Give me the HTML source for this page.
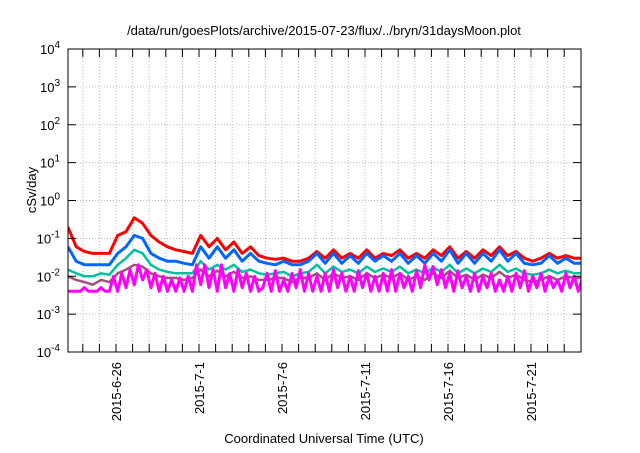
<!DOCTYPE html>
<html><head><meta charset="utf-8"><style>
body{margin:0;background:#fff;}
svg text{font-family:"Liberation Sans",sans-serif;fill:#000;}
</style></head><body>
<svg id="chart" width="640" height="448" viewBox="0 0 640 448" xmlns="http://www.w3.org/2000/svg">
<text x="324" y="35" font-size="13" text-anchor="middle">/data/run/goesPlots/archive/2015-07-23/flux/../bryn/31daysMoon.plot</text>
<text transform="translate(36,190) rotate(-90)" font-size="13" text-anchor="middle">cSv/day</text>
<text x="324" y="443" font-size="13" text-anchor="middle">Coordinated Universal Time (UTC)</text>
<g id="grid"></g>
<g id="series"></g>
<g id="axes"></g>
</svg>
<script>
const yDecades=[-4,-3,-2,-1,0,1,2,3,4];
const xTickDays=[3,8,13,18,23,28];
const xTickLabels=["2015-6-26","2015-7-1","2015-7-6","2015-7-11","2015-7-16","2015-7-21"];
const redVals=[0.2,0.06,0.045,0.04,0.04,0.04,0.12,0.15,0.35,0.25,0.12,0.08,0.06,0.05,0.045,0.04,0.12,0.06,0.1,0.05,0.08,0.04,0.06,0.035,0.03,0.028,0.03,0.025,0.025,0.03,0.045,0.03,0.05,0.03,0.04,0.03,0.05,0.03,0.04,0.035,0.05,0.03,0.04,0.03,0.05,0.035,0.06,0.03,0.045,0.03,0.05,0.035,0.06,0.035,0.045,0.03,0.025,0.03,0.04,0.03,0.035,0.03,0.03];
const blueVals=[0.06,0.025,0.02,0.02,0.02,0.02,0.04,0.06,0.12,0.1,0.04,0.03,0.025,0.025,0.022,0.02,0.06,0.03,0.06,0.03,0.05,0.025,0.04,0.025,0.022,0.02,0.025,0.02,0.02,0.025,0.04,0.022,0.04,0.022,0.035,0.022,0.04,0.025,0.035,0.025,0.04,0.022,0.035,0.022,0.04,0.025,0.05,0.022,0.04,0.022,0.04,0.025,0.05,0.025,0.04,0.022,0.02,0.022,0.035,0.022,0.03,0.022,0.022];
const tealVals=[0.015,0.012,0.01,0.01,0.012,0.011,0.02,0.03,0.05,0.04,0.02,0.015,0.013,0.012,0.012,0.012,0.025,0.015,0.02,0.015,0.02,0.013,0.015,0.012,0.011,0.012,0.013,0.01,0.012,0.013,0.02,0.012,0.018,0.013,0.015,0.012,0.018,0.013,0.016,0.013,0.018,0.012,0.015,0.012,0.017,0.013,0.02,0.012,0.016,0.012,0.016,0.013,0.02,0.013,0.016,0.012,0.011,0.012,0.015,0.012,0.014,0.012,0.012];
const purpleVals=[0.01,0.008,0.007,0.006,0.008,0.007,0.012,0.015,0.02,0.018,0.012,0.01,0.009,0.009,0.008,0.009,0.015,0.01,0.014,0.01,0.013,0.009,0.01,0.008,0.008,0.009,0.009,0.007,0.009,0.009,0.012,0.008,0.012,0.009,0.01,0.008,0.012,0.009,0.011,0.009,0.012,0.008,0.01,0.008,0.012,0.009,0.014,0.009,0.011,0.008,0.011,0.009,0.013,0.009,0.011,0.008,0.007,0.008,0.01,0.008,0.01,0.009,0.009];
const magentaVals=[0.004,0.004,0.004,0.004,0.005,0.004,0.004,0.004,0.005,0.004,0.004,
0.01,0.004,0.012,0.005,0.015,0.006,0.02,0.008,0.015,
0.005,0.012,0.004,0.01,0.004,0.008,0.004,0.009,0.004,0.01,0.004,0.02,
0.006,0.02,0.005,0.015,0.004,0.02,0.005,0.012,0.004,0.015,0.005,0.012,0.004,0.01,0.004,
0.005,0.012,0.004,0.014,0.004,0.008,0.004,0.012,0.005,0.015,0.004,0.012,0.004,0.01,0.004,
0.012,0.004,0.015,0.005,0.012,0.004,0.01,0.004,0.014,0.005,0.012,0.004,0.01,0.004,0.012,
0.004,0.015,0.004,0.012,0.005,0.01,0.004,0.014,0.005,0.02,0.008,0.018,0.006,0.015,0.005,
0.012,0.004,0.014,0.005,0.01,0.004,0.012,0.004,0.01,0.005,0.012,0.004,0.008,0.004,0.01,
0.004,0.012,0.005,0.014,0.004,0.01,0.005,0.012,0.004,0.01,0.005,0.008,
0.004,0.012,0.005,0.01,0.004,0.009];
const L=68,R=581,T=49,B=352;
const xS=d=>66.2+16.6*d;
const yS=v=>T+(4-Math.log10(v))*(B-T)/8;
const NS="http://www.w3.org/2000/svg";
function mk(tag,attrs,parent){const e=document.createElementNS(NS,tag);for(const k in attrs)e.setAttribute(k,attrs[k]);parent.appendChild(e);return e;}
const grid=document.getElementById('grid'),axes=document.getElementById('axes'),ser=document.getElementById('series');
for(let d=0;d<=31;d++){const x=xS(d);if(x<=L+1||x>=R-1)continue;
 const g=mk('line',{x1:x,x2:x,y1:T,y2:B,stroke:'#bbb','stroke-dasharray':'1,2'},grid);
 
 const t1=mk('line',{x1:x,x2:x,y1:B,y2:B-8,stroke:'#000'},axes);
 
 const t2=mk('line',{x1:x,x2:x,y1:T,y2:T+8,stroke:'#000'},axes);
 }
yDecades.forEach(p=>{const y=yS(Math.pow(10,p));
 if(p>-4&&p<4){const g=mk('line',{x1:L,x2:R,y1:y,y2:y,stroke:'#bbb','stroke-dasharray':'1,2'},grid);
 }
 const t1=mk('line',{x1:L,x2:L+8,y1:y,y2:y,stroke:'#000'},axes);
 
 const t2=mk('line',{x1:R,x2:R-8,y1:y,y2:y,stroke:'#000'},axes);
 
 const tx=mk('text',{x:L-8,y:y+5,'font-size':'13','text-anchor':'end'},axes);
 
 tx.textContent='10';const sp=mk('tspan',{dy:-6,'font-size':'10'},tx);sp.textContent=String(p);});
xTickDays.forEach((d,i)=>{const x=xS(d);
 const tx=mk('text',{transform:`translate(${x+5},362) rotate(-90)`,'font-size':'13','text-anchor':'end'},axes);
 
 tx.textContent=xTickLabels[i];});
const fr=mk('rect',{x:L,y:T,width:R-L,height:B-T,fill:'none',stroke:'#000','stroke-width':1},axes);

const cp=mk('clipPath',{id:'clip'},ser);mk('rect',{x:L,y:T,width:R-L,height:B-T},cp);
function line(vals,step,color,name,w){
 const pts=vals.map((v,i)=>xS(0.1+i*step).toFixed(1)+','+yS(v).toFixed(1)).join(' ');
 const p=mk('polyline',{points:pts,fill:'none',stroke:color,'stroke-width':w,'stroke-linejoin':'round','clip-path':'url(#clip)'},ser);
 }
line(redVals,0.5,'#ff0000','series-red',3);
line(blueVals,0.5,'#0066ff','series-blue',3);
line(tealVals,0.5,'#00c0a0','series-teal',2.5);
line(purpleVals,0.5,'#a0507a','series-purple',2.5);
line(magentaVals,0.25,'#ff00ff','series-magenta',3);
</script>
</body></html>
